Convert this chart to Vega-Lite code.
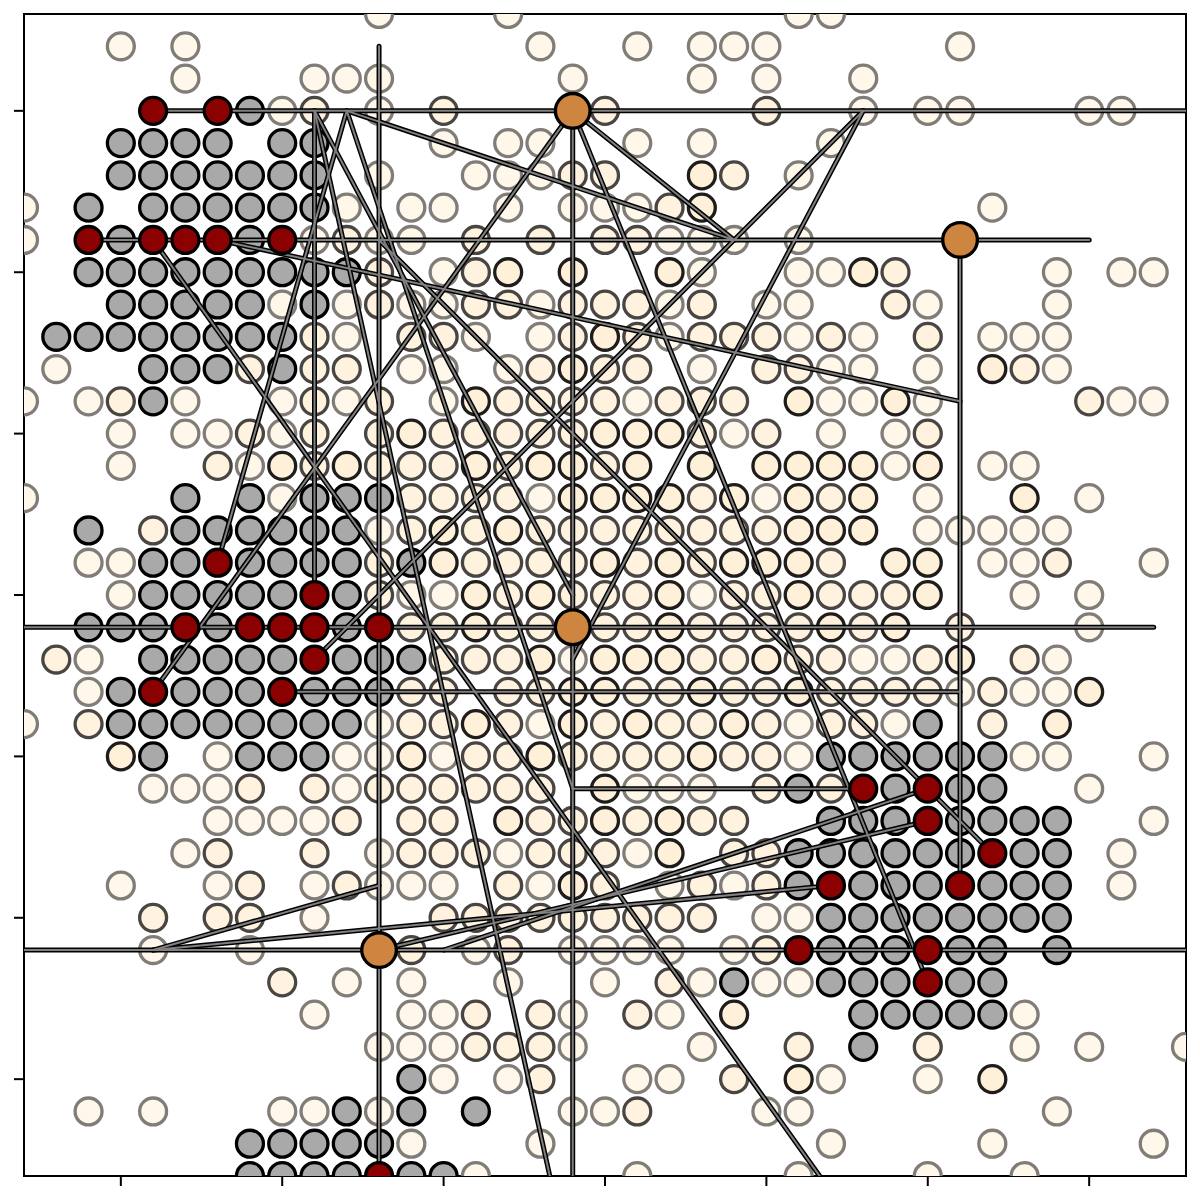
{"$schema":"https://vega.github.io/schema/vega-lite/v6.json","width":1162,"height":1162,"autosize":{"type":"none"},"padding":{"left":24,"top":14,"right":14,"bottom":24},"background":"white","config":{"view":{"stroke":"black","strokeWidth":2}},
"datasets":{"lines":[
{"x":4,"y":3,"x2":36,"y2":3},{"x":2,"y":7,"x2":33,"y2":7},{"x":0,"y":19,"x2":35,"y2":19},{"x":8,"y":21,"x2":29,"y2":21},{"x":17,"y":24,"x2":26,"y2":24},{"x":0,"y":29,"x2":36,"y2":29},
{"x":11,"y":1,"x2":11,"y2":36},{"x":9,"y":3,"x2":9,"y2":18},{"x":17,"y":3,"x2":17,"y2":36},{"x":29,"y":7,"x2":29,"y2":27},
{"x":10,"y":3,"x2":22,"y2":7},{"x":17,"y":3,"x2":22,"y2":7},{"x":17,"y":3,"x2":4,"y2":21},{"x":17,"y":3,"x2":28,"y2":30},
{"x":11,"y":7,"x2":30,"y2":26},{"x":4,"y":7,"x2":24.65,"y2":36},{"x":6,"y":7,"x2":29,"y2":12},
{"x":10,"y":3,"x2":17,"y2":24},{"x":9,"y":3,"x2":17,"y2":18},{"x":9,"y":3,"x2":16.29,"y2":36},
{"x":26,"y":3,"x2":17,"y2":20},{"x":26,"y":3,"x2":9,"y2":20},{"x":10,"y":3,"x2":6,"y2":17},
{"x":4,"y":29,"x2":11,"y2":27},{"x":4,"y":29,"x2":25,"y2":27},{"x":13,"y":29,"x2":28,"y2":24},{"x":11,"y":29,"x2":28,"y2":25}
],
"special":[
{"x":4,"y":3,"k":"r"},{"x":6,"y":3,"k":"r"},{"x":2,"y":7,"k":"r"},{"x":4,"y":7,"k":"r"},{"x":5,"y":7,"k":"r"},{"x":6,"y":7,"k":"r"},{"x":8,"y":7,"k":"r"},{"x":6,"y":17,"k":"r"},{"x":9,"y":18,"k":"r"},{"x":5,"y":19,"k":"r"},{"x":7,"y":19,"k":"r"},{"x":8,"y":19,"k":"r"},{"x":9,"y":19,"k":"r"},{"x":11,"y":19,"k":"r"},{"x":9,"y":20,"k":"r"},{"x":4,"y":21,"k":"r"},{"x":8,"y":21,"k":"r"},{"x":26,"y":24,"k":"r"},{"x":28,"y":24,"k":"r"},{"x":28,"y":25,"k":"r"},{"x":30,"y":26,"k":"r"},{"x":25,"y":27,"k":"r"},{"x":29,"y":27,"k":"r"},{"x":24,"y":29,"k":"r"},{"x":28,"y":29,"k":"r"},{"x":28,"y":30,"k":"r"},{"x":11,"y":36,"k":"r"},
{"x":17,"y":3,"k":"b"},{"x":29,"y":7,"k":"b"},{"x":17,"y":19,"k":"b"},{"x":11,"y":29,"k":"b"}
],
"base":[
{"x":11,"y":0,"k":"f"},{"x":15,"y":0,"k":"f"},{"x":24,"y":0,"k":"f"},{"x":25,"y":0,"k":"f"},
{"x":3,"y":1,"k":"f"},{"x":5,"y":1,"k":"f"},{"x":16,"y":1,"k":"f"},{"x":19,"y":1,"k":"f"},{"x":21,"y":1,"k":"f"},{"x":22,"y":1,"k":"f"},{"x":23,"y":1,"k":"f"},{"x":29,"y":1,"k":"f"},
{"x":5,"y":2,"k":"f"},{"x":9,"y":2,"k":"f"},{"x":10,"y":2,"k":"f"},{"x":11,"y":2,"k":"f"},{"x":17,"y":2,"k":"f"},{"x":21,"y":2,"k":"f"},{"x":23,"y":2,"k":"f"},{"x":26,"y":2,"k":"f"},
{"x":7,"y":3,"k":"g"},{"x":8,"y":3,"k":"f"},{"x":9,"y":3,"k":"m"},{"x":11,"y":3,"k":"f"},{"x":13,"y":3,"k":"m"},{"x":18,"y":3,"k":"m"},{"x":23,"y":3,"k":"m"},{"x":26,"y":3,"k":"f"},{"x":28,"y":3,"k":"f"},{"x":29,"y":3,"k":"f"},{"x":33,"y":3,"k":"f"},{"x":34,"y":3,"k":"f"},
{"x":3,"y":4,"k":"g"},{"x":4,"y":4,"k":"g"},{"x":5,"y":4,"k":"g"},{"x":6,"y":4,"k":"g"},{"x":8,"y":4,"k":"g"},{"x":9,"y":4,"k":"g"},{"x":13,"y":4,"k":"f"},{"x":15,"y":4,"k":"f"},{"x":16,"y":4,"k":"f"},{"x":19,"y":4,"k":"f"},{"x":21,"y":4,"k":"f"},{"x":25,"y":4,"k":"f"},
{"x":3,"y":5,"k":"g"},{"x":4,"y":5,"k":"g"},{"x":5,"y":5,"k":"g"},{"x":6,"y":5,"k":"g"},{"x":7,"y":5,"k":"g"},{"x":8,"y":5,"k":"g"},{"x":9,"y":5,"k":"g"},{"x":11,"y":5,"k":"f"},{"x":14,"y":5,"k":"f"},{"x":15,"y":5,"k":"f"},{"x":16,"y":5,"k":"f"},{"x":17,"y":5,"k":"m"},{"x":18,"y":5,"k":"m"},{"x":21,"y":5,"k":"s"},{"x":22,"y":5,"k":"m"},{"x":24,"y":5,"k":"f"},
{"x":0,"y":6,"k":"f"},{"x":2,"y":6,"k":"g"},{"x":4,"y":6,"k":"g"},{"x":5,"y":6,"k":"g"},{"x":6,"y":6,"k":"g"},{"x":7,"y":6,"k":"g"},{"x":8,"y":6,"k":"g"},{"x":9,"y":6,"k":"g"},{"x":10,"y":6,"k":"f"},{"x":12,"y":6,"k":"f"},{"x":13,"y":6,"k":"f"},{"x":15,"y":6,"k":"f"},{"x":17,"y":6,"k":"f"},{"x":18,"y":6,"k":"f"},{"x":19,"y":6,"k":"f"},{"x":20,"y":6,"k":"m"},{"x":21,"y":6,"k":"s"},{"x":30,"y":6,"k":"f"},
{"x":0,"y":7,"k":"f"},{"x":3,"y":7,"k":"g"},{"x":7,"y":7,"k":"g"},{"x":9,"y":7,"k":"f"},{"x":10,"y":7,"k":"m"},{"x":11,"y":7,"k":"f"},{"x":12,"y":7,"k":"f"},{"x":14,"y":7,"k":"m"},{"x":16,"y":7,"k":"m"},{"x":18,"y":7,"k":"m"},{"x":19,"y":7,"k":"m"},{"x":20,"y":7,"k":"f"},{"x":21,"y":7,"k":"f"},{"x":22,"y":7,"k":"f"},{"x":24,"y":7,"k":"f"},
{"x":2,"y":8,"k":"g"},{"x":3,"y":8,"k":"g"},{"x":4,"y":8,"k":"g"},{"x":5,"y":8,"k":"g"},{"x":6,"y":8,"k":"g"},{"x":7,"y":8,"k":"g"},{"x":8,"y":8,"k":"g"},{"x":9,"y":8,"k":"g"},{"x":10,"y":8,"k":"g"},{"x":11,"y":8,"k":"m"},{"x":13,"y":8,"k":"f"},{"x":14,"y":8,"k":"m"},{"x":15,"y":8,"k":"s"},{"x":17,"y":8,"k":"s"},{"x":20,"y":8,"k":"s"},{"x":21,"y":8,"k":"f"},{"x":24,"y":8,"k":"f"},{"x":25,"y":8,"k":"f"},{"x":26,"y":8,"k":"s"},{"x":27,"y":8,"k":"m"},{"x":32,"y":8,"k":"f"},{"x":34,"y":8,"k":"f"},{"x":35,"y":8,"k":"f"},
{"x":3,"y":9,"k":"g"},{"x":4,"y":9,"k":"g"},{"x":5,"y":9,"k":"g"},{"x":6,"y":9,"k":"g"},{"x":7,"y":9,"k":"g"},{"x":8,"y":9,"k":"f"},{"x":9,"y":9,"k":"g"},{"x":10,"y":9,"k":"f"},{"x":11,"y":9,"k":"m"},{"x":12,"y":9,"k":"f"},{"x":13,"y":9,"k":"f"},{"x":14,"y":9,"k":"m"},{"x":15,"y":9,"k":"m"},{"x":16,"y":9,"k":"f"},{"x":17,"y":9,"k":"m"},{"x":18,"y":9,"k":"m"},{"x":19,"y":9,"k":"m"},{"x":20,"y":9,"k":"f"},{"x":21,"y":9,"k":"m"},{"x":23,"y":9,"k":"f"},{"x":24,"y":9,"k":"f"},{"x":27,"y":9,"k":"m"},{"x":28,"y":9,"k":"f"},{"x":32,"y":9,"k":"f"},
{"x":1,"y":10,"k":"g"},{"x":2,"y":10,"k":"g"},{"x":3,"y":10,"k":"g"},{"x":4,"y":10,"k":"g"},{"x":5,"y":10,"k":"g"},{"x":6,"y":10,"k":"g"},{"x":7,"y":10,"k":"g"},{"x":8,"y":10,"k":"g"},{"x":9,"y":10,"k":"m"},{"x":10,"y":10,"k":"f"},{"x":12,"y":10,"k":"m"},{"x":13,"y":10,"k":"m"},{"x":14,"y":10,"k":"f"},{"x":16,"y":10,"k":"f"},{"x":17,"y":10,"k":"m"},{"x":18,"y":10,"k":"s"},{"x":19,"y":10,"k":"m"},{"x":20,"y":10,"k":"f"},{"x":21,"y":10,"k":"m"},{"x":22,"y":10,"k":"m"},{"x":23,"y":10,"k":"m"},{"x":24,"y":10,"k":"f"},{"x":25,"y":10,"k":"m"},{"x":26,"y":10,"k":"f"},{"x":28,"y":10,"k":"m"},{"x":30,"y":10,"k":"f"},{"x":31,"y":10,"k":"f"},{"x":32,"y":10,"k":"f"},
{"x":1,"y":11,"k":"f"},{"x":4,"y":11,"k":"g"},{"x":5,"y":11,"k":"g"},{"x":6,"y":11,"k":"g"},{"x":7,"y":11,"k":"m"},{"x":8,"y":11,"k":"g"},{"x":9,"y":11,"k":"m"},{"x":10,"y":11,"k":"m"},{"x":12,"y":11,"k":"f"},{"x":13,"y":11,"k":"f"},{"x":15,"y":11,"k":"f"},{"x":16,"y":11,"k":"m"},{"x":17,"y":11,"k":"s"},{"x":18,"y":11,"k":"m"},{"x":19,"y":11,"k":"m"},{"x":21,"y":11,"k":"f"},{"x":23,"y":11,"k":"m"},{"x":24,"y":11,"k":"m"},{"x":25,"y":11,"k":"f"},{"x":26,"y":11,"k":"f"},{"x":28,"y":11,"k":"f"},{"x":30,"y":11,"k":"s"},{"x":31,"y":11,"k":"m"},{"x":32,"y":11,"k":"f"},
{"x":0,"y":12,"k":"f"},{"x":2,"y":12,"k":"f"},{"x":3,"y":12,"k":"m"},{"x":4,"y":12,"k":"g"},{"x":5,"y":12,"k":"f"},{"x":8,"y":12,"k":"f"},{"x":9,"y":12,"k":"m"},{"x":10,"y":12,"k":"f"},{"x":11,"y":12,"k":"m"},{"x":13,"y":12,"k":"f"},{"x":14,"y":12,"k":"s"},{"x":15,"y":12,"k":"m"},{"x":16,"y":12,"k":"m"},{"x":17,"y":12,"k":"m"},{"x":18,"y":12,"k":"m"},{"x":19,"y":12,"k":"f"},{"x":20,"y":12,"k":"m"},{"x":21,"y":12,"k":"m"},{"x":22,"y":12,"k":"m"},{"x":24,"y":12,"k":"s"},{"x":25,"y":12,"k":"f"},{"x":26,"y":12,"k":"f"},{"x":27,"y":12,"k":"s"},{"x":28,"y":12,"k":"f"},{"x":33,"y":12,"k":"m"},{"x":34,"y":12,"k":"f"},{"x":35,"y":12,"k":"f"},
{"x":3,"y":13,"k":"f"},{"x":5,"y":13,"k":"f"},{"x":6,"y":13,"k":"f"},{"x":7,"y":13,"k":"m"},{"x":8,"y":13,"k":"f"},{"x":9,"y":13,"k":"m"},{"x":11,"y":13,"k":"m"},{"x":12,"y":13,"k":"s"},{"x":13,"y":13,"k":"m"},{"x":14,"y":13,"k":"m"},{"x":15,"y":13,"k":"m"},{"x":16,"y":13,"k":"m"},{"x":17,"y":13,"k":"m"},{"x":18,"y":13,"k":"s"},{"x":19,"y":13,"k":"s"},{"x":20,"y":13,"k":"s"},{"x":21,"y":13,"k":"m"},{"x":22,"y":13,"k":"f"},{"x":23,"y":13,"k":"m"},{"x":25,"y":13,"k":"f"},{"x":27,"y":13,"k":"f"},{"x":28,"y":13,"k":"m"},
{"x":3,"y":14,"k":"f"},{"x":6,"y":14,"k":"m"},{"x":7,"y":14,"k":"f"},{"x":8,"y":14,"k":"s"},{"x":9,"y":14,"k":"m"},{"x":10,"y":14,"k":"s"},{"x":11,"y":14,"k":"m"},{"x":12,"y":14,"k":"m"},{"x":13,"y":14,"k":"m"},{"x":14,"y":14,"k":"s"},{"x":15,"y":14,"k":"m"},{"x":16,"y":14,"k":"s"},{"x":17,"y":14,"k":"s"},{"x":18,"y":14,"k":"m"},{"x":19,"y":14,"k":"s"},{"x":21,"y":14,"k":"s"},{"x":23,"y":14,"k":"s"},{"x":24,"y":14,"k":"s"},{"x":25,"y":14,"k":"s"},{"x":26,"y":14,"k":"s"},{"x":27,"y":14,"k":"f"},{"x":28,"y":14,"k":"s"},{"x":30,"y":14,"k":"f"},{"x":31,"y":14,"k":"f"},
{"x":0,"y":15,"k":"f"},{"x":5,"y":15,"k":"g"},{"x":7,"y":15,"k":"g"},{"x":8,"y":15,"k":"f"},{"x":9,"y":15,"k":"g"},{"x":10,"y":15,"k":"g"},{"x":11,"y":15,"k":"g"},{"x":12,"y":15,"k":"m"},{"x":13,"y":15,"k":"m"},{"x":14,"y":15,"k":"m"},{"x":15,"y":15,"k":"m"},{"x":16,"y":15,"k":"f"},{"x":17,"y":15,"k":"s"},{"x":18,"y":15,"k":"s"},{"x":19,"y":15,"k":"s"},{"x":20,"y":15,"k":"s"},{"x":21,"y":15,"k":"m"},{"x":22,"y":15,"k":"s"},{"x":23,"y":15,"k":"f"},{"x":24,"y":15,"k":"s"},{"x":25,"y":15,"k":"m"},{"x":26,"y":15,"k":"s"},{"x":28,"y":15,"k":"f"},{"x":31,"y":15,"k":"s"},{"x":33,"y":15,"k":"f"},
{"x":2,"y":16,"k":"g"},{"x":4,"y":16,"k":"m"},{"x":5,"y":16,"k":"g"},{"x":6,"y":16,"k":"g"},{"x":7,"y":16,"k":"g"},{"x":8,"y":16,"k":"g"},{"x":9,"y":16,"k":"g"},{"x":10,"y":16,"k":"g"},{"x":11,"y":16,"k":"f"},{"x":12,"y":16,"k":"m"},{"x":13,"y":16,"k":"s"},{"x":14,"y":16,"k":"m"},{"x":15,"y":16,"k":"s"},{"x":16,"y":16,"k":"m"},{"x":17,"y":16,"k":"m"},{"x":18,"y":16,"k":"m"},{"x":19,"y":16,"k":"m"},{"x":20,"y":16,"k":"m"},{"x":21,"y":16,"k":"m"},{"x":22,"y":16,"k":"m"},{"x":23,"y":16,"k":"m"},{"x":24,"y":16,"k":"s"},{"x":25,"y":16,"k":"s"},{"x":26,"y":16,"k":"s"},{"x":28,"y":16,"k":"f"},{"x":29,"y":16,"k":"f"},{"x":30,"y":16,"k":"f"},{"x":31,"y":16,"k":"f"},{"x":32,"y":16,"k":"f"},
{"x":2,"y":17,"k":"f"},{"x":3,"y":17,"k":"f"},{"x":4,"y":17,"k":"g"},{"x":5,"y":17,"k":"g"},{"x":7,"y":17,"k":"g"},{"x":8,"y":17,"k":"g"},{"x":9,"y":17,"k":"g"},{"x":10,"y":17,"k":"g"},{"x":11,"y":17,"k":"m"},{"x":12,"y":17,"k":"g"},{"x":13,"y":17,"k":"s"},{"x":14,"y":17,"k":"m"},{"x":15,"y":17,"k":"m"},{"x":16,"y":17,"k":"m"},{"x":17,"y":17,"k":"m"},{"x":18,"y":17,"k":"s"},{"x":19,"y":17,"k":"m"},{"x":20,"y":17,"k":"s"},{"x":21,"y":17,"k":"m"},{"x":22,"y":17,"k":"s"},{"x":23,"y":17,"k":"s"},{"x":24,"y":17,"k":"s"},{"x":25,"y":17,"k":"m"},{"x":27,"y":17,"k":"s"},{"x":28,"y":17,"k":"s"},{"x":30,"y":17,"k":"f"},{"x":31,"y":17,"k":"f"},{"x":32,"y":17,"k":"m"},{"x":35,"y":17,"k":"f"},
{"x":3,"y":18,"k":"f"},{"x":4,"y":18,"k":"g"},{"x":5,"y":18,"k":"g"},{"x":6,"y":18,"k":"g"},{"x":7,"y":18,"k":"g"},{"x":8,"y":18,"k":"g"},{"x":10,"y":18,"k":"g"},{"x":11,"y":18,"k":"m"},{"x":12,"y":18,"k":"f"},{"x":13,"y":18,"k":"f"},{"x":14,"y":18,"k":"s"},{"x":15,"y":18,"k":"m"},{"x":16,"y":18,"k":"s"},{"x":17,"y":18,"k":"m"},{"x":18,"y":18,"k":"m"},{"x":19,"y":18,"k":"m"},{"x":20,"y":18,"k":"s"},{"x":21,"y":18,"k":"f"},{"x":22,"y":18,"k":"m"},{"x":23,"y":18,"k":"m"},{"x":24,"y":18,"k":"s"},{"x":25,"y":18,"k":"m"},{"x":26,"y":18,"k":"m"},{"x":27,"y":18,"k":"m"},{"x":28,"y":18,"k":"s"},{"x":31,"y":18,"k":"f"},{"x":33,"y":18,"k":"f"},
{"x":2,"y":19,"k":"g"},{"x":3,"y":19,"k":"g"},{"x":4,"y":19,"k":"g"},{"x":6,"y":19,"k":"g"},{"x":10,"y":19,"k":"g"},{"x":12,"y":19,"k":"m"},{"x":13,"y":19,"k":"m"},{"x":14,"y":19,"k":"s"},{"x":15,"y":19,"k":"m"},{"x":16,"y":19,"k":"m"},{"x":18,"y":19,"k":"m"},{"x":19,"y":19,"k":"m"},{"x":20,"y":19,"k":"s"},{"x":21,"y":19,"k":"m"},{"x":22,"y":19,"k":"m"},{"x":23,"y":19,"k":"m"},{"x":24,"y":19,"k":"m"},{"x":25,"y":19,"k":"s"},{"x":26,"y":19,"k":"m"},{"x":27,"y":19,"k":"s"},{"x":29,"y":19,"k":"m"},{"x":33,"y":19,"k":"f"},
{"x":1,"y":20,"k":"m"},{"x":2,"y":20,"k":"f"},{"x":4,"y":20,"k":"g"},{"x":5,"y":20,"k":"g"},{"x":6,"y":20,"k":"g"},{"x":7,"y":20,"k":"g"},{"x":8,"y":20,"k":"g"},{"x":10,"y":20,"k":"g"},{"x":11,"y":20,"k":"g"},{"x":12,"y":20,"k":"g"},{"x":13,"y":20,"k":"m"},{"x":14,"y":20,"k":"m"},{"x":15,"y":20,"k":"m"},{"x":16,"y":20,"k":"s"},{"x":17,"y":20,"k":"f"},{"x":18,"y":20,"k":"s"},{"x":19,"y":20,"k":"s"},{"x":20,"y":20,"k":"s"},{"x":21,"y":20,"k":"m"},{"x":22,"y":20,"k":"m"},{"x":23,"y":20,"k":"s"},{"x":24,"y":20,"k":"m"},{"x":25,"y":20,"k":"m"},{"x":26,"y":20,"k":"f"},{"x":27,"y":20,"k":"f"},{"x":28,"y":20,"k":"m"},{"x":29,"y":20,"k":"s"},{"x":31,"y":20,"k":"m"},{"x":32,"y":20,"k":"f"},
{"x":2,"y":21,"k":"f"},{"x":3,"y":21,"k":"g"},{"x":5,"y":21,"k":"g"},{"x":6,"y":21,"k":"g"},{"x":7,"y":21,"k":"g"},{"x":9,"y":21,"k":"g"},{"x":10,"y":21,"k":"g"},{"x":11,"y":21,"k":"g"},{"x":12,"y":21,"k":"m"},{"x":13,"y":21,"k":"m"},{"x":15,"y":21,"k":"m"},{"x":16,"y":21,"k":"m"},{"x":17,"y":21,"k":"s"},{"x":18,"y":21,"k":"s"},{"x":19,"y":21,"k":"m"},{"x":20,"y":21,"k":"m"},{"x":21,"y":21,"k":"s"},{"x":22,"y":21,"k":"m"},{"x":23,"y":21,"k":"m"},{"x":24,"y":21,"k":"s"},{"x":25,"y":21,"k":"m"},{"x":26,"y":21,"k":"m"},{"x":27,"y":21,"k":"m"},{"x":28,"y":21,"k":"m"},{"x":29,"y":21,"k":"f"},{"x":30,"y":21,"k":"m"},{"x":31,"y":21,"k":"f"},{"x":32,"y":21,"k":"f"},{"x":33,"y":21,"k":"s"},
{"x":0,"y":22,"k":"f"},{"x":2,"y":22,"k":"m"},{"x":3,"y":22,"k":"g"},{"x":4,"y":22,"k":"g"},{"x":5,"y":22,"k":"g"},{"x":6,"y":22,"k":"g"},{"x":7,"y":22,"k":"g"},{"x":8,"y":22,"k":"g"},{"x":9,"y":22,"k":"g"},{"x":10,"y":22,"k":"g"},{"x":11,"y":22,"k":"f"},{"x":12,"y":22,"k":"m"},{"x":13,"y":22,"k":"m"},{"x":14,"y":22,"k":"s"},{"x":15,"y":22,"k":"m"},{"x":16,"y":22,"k":"f"},{"x":17,"y":22,"k":"s"},{"x":18,"y":22,"k":"m"},{"x":19,"y":22,"k":"s"},{"x":20,"y":22,"k":"m"},{"x":21,"y":22,"k":"m"},{"x":22,"y":22,"k":"s"},{"x":23,"y":22,"k":"m"},{"x":24,"y":22,"k":"f"},{"x":25,"y":22,"k":"m"},{"x":26,"y":22,"k":"m"},{"x":27,"y":22,"k":"f"},{"x":28,"y":22,"k":"g"},{"x":30,"y":22,"k":"m"},{"x":32,"y":22,"k":"s"},
{"x":3,"y":23,"k":"s"},{"x":4,"y":23,"k":"g"},{"x":6,"y":23,"k":"f"},{"x":7,"y":23,"k":"g"},{"x":8,"y":23,"k":"g"},{"x":9,"y":23,"k":"g"},{"x":10,"y":23,"k":"f"},{"x":11,"y":23,"k":"f"},{"x":12,"y":23,"k":"s"},{"x":13,"y":23,"k":"f"},{"x":14,"y":23,"k":"m"},{"x":15,"y":23,"k":"m"},{"x":16,"y":23,"k":"s"},{"x":17,"y":23,"k":"m"},{"x":18,"y":23,"k":"m"},{"x":19,"y":23,"k":"m"},{"x":20,"y":23,"k":"m"},{"x":21,"y":23,"k":"s"},{"x":22,"y":23,"k":"m"},{"x":23,"y":23,"k":"m"},{"x":24,"y":23,"k":"f"},{"x":25,"y":23,"k":"g"},{"x":26,"y":23,"k":"g"},{"x":27,"y":23,"k":"g"},{"x":28,"y":23,"k":"g"},{"x":29,"y":23,"k":"g"},{"x":30,"y":23,"k":"g"},{"x":31,"y":23,"k":"f"},{"x":32,"y":23,"k":"f"},{"x":35,"y":23,"k":"f"},
{"x":4,"y":24,"k":"f"},{"x":5,"y":24,"k":"f"},{"x":6,"y":24,"k":"f"},{"x":7,"y":24,"k":"m"},{"x":9,"y":24,"k":"m"},{"x":10,"y":24,"k":"f"},{"x":11,"y":24,"k":"m"},{"x":12,"y":24,"k":"m"},{"x":13,"y":24,"k":"m"},{"x":14,"y":24,"k":"m"},{"x":15,"y":24,"k":"m"},{"x":16,"y":24,"k":"m"},{"x":18,"y":24,"k":"s"},{"x":19,"y":24,"k":"f"},{"x":20,"y":24,"k":"f"},{"x":21,"y":24,"k":"f"},{"x":23,"y":24,"k":"m"},{"x":24,"y":24,"k":"g"},{"x":25,"y":24,"k":"m"},{"x":27,"y":24,"k":"g"},{"x":29,"y":24,"k":"g"},{"x":30,"y":24,"k":"g"},{"x":33,"y":24,"k":"f"},
{"x":6,"y":25,"k":"f"},{"x":7,"y":25,"k":"f"},{"x":8,"y":25,"k":"f"},{"x":9,"y":25,"k":"f"},{"x":10,"y":25,"k":"m"},{"x":12,"y":25,"k":"m"},{"x":13,"y":25,"k":"m"},{"x":15,"y":25,"k":"s"},{"x":16,"y":25,"k":"m"},{"x":17,"y":25,"k":"m"},{"x":18,"y":25,"k":"s"},{"x":19,"y":25,"k":"m"},{"x":20,"y":25,"k":"s"},{"x":21,"y":25,"k":"m"},{"x":22,"y":25,"k":"m"},{"x":25,"y":25,"k":"g"},{"x":26,"y":25,"k":"g"},{"x":27,"y":25,"k":"g"},{"x":29,"y":25,"k":"g"},{"x":30,"y":25,"k":"g"},{"x":31,"y":25,"k":"g"},{"x":32,"y":25,"k":"g"},{"x":35,"y":25,"k":"f"},
{"x":5,"y":26,"k":"f"},{"x":6,"y":26,"k":"m"},{"x":9,"y":26,"k":"m"},{"x":11,"y":26,"k":"f"},{"x":12,"y":26,"k":"m"},{"x":13,"y":26,"k":"m"},{"x":14,"y":26,"k":"m"},{"x":15,"y":26,"k":"f"},{"x":16,"y":26,"k":"m"},{"x":17,"y":26,"k":"m"},{"x":18,"y":26,"k":"m"},{"x":19,"y":26,"k":"f"},{"x":20,"y":26,"k":"s"},{"x":22,"y":26,"k":"m"},{"x":23,"y":26,"k":"m"},{"x":24,"y":26,"k":"g"},{"x":25,"y":26,"k":"g"},{"x":26,"y":26,"k":"g"},{"x":27,"y":26,"k":"g"},{"x":28,"y":26,"k":"g"},{"x":29,"y":26,"k":"g"},{"x":31,"y":26,"k":"g"},{"x":32,"y":26,"k":"g"},{"x":34,"y":26,"k":"f"},
{"x":3,"y":27,"k":"f"},{"x":6,"y":27,"k":"f"},{"x":7,"y":27,"k":"m"},{"x":9,"y":27,"k":"f"},{"x":10,"y":27,"k":"m"},{"x":11,"y":27,"k":"f"},{"x":12,"y":27,"k":"f"},{"x":13,"y":27,"k":"f"},{"x":15,"y":27,"k":"m"},{"x":16,"y":27,"k":"f"},{"x":17,"y":27,"k":"s"},{"x":18,"y":27,"k":"m"},{"x":20,"y":27,"k":"f"},{"x":21,"y":27,"k":"m"},{"x":22,"y":27,"k":"f"},{"x":23,"y":27,"k":"m"},{"x":24,"y":27,"k":"g"},{"x":26,"y":27,"k":"g"},{"x":27,"y":27,"k":"g"},{"x":28,"y":27,"k":"g"},{"x":30,"y":27,"k":"g"},{"x":31,"y":27,"k":"g"},{"x":32,"y":27,"k":"g"},{"x":34,"y":27,"k":"f"},
{"x":4,"y":28,"k":"m"},{"x":6,"y":28,"k":"m"},{"x":7,"y":28,"k":"m"},{"x":9,"y":28,"k":"f"},{"x":13,"y":28,"k":"m"},{"x":14,"y":28,"k":"m"},{"x":15,"y":28,"k":"m"},{"x":16,"y":28,"k":"m"},{"x":17,"y":28,"k":"m"},{"x":18,"y":28,"k":"m"},{"x":19,"y":28,"k":"m"},{"x":20,"y":28,"k":"m"},{"x":21,"y":28,"k":"m"},{"x":23,"y":28,"k":"f"},{"x":24,"y":28,"k":"f"},{"x":25,"y":28,"k":"g"},{"x":26,"y":28,"k":"g"},{"x":27,"y":28,"k":"g"},{"x":28,"y":28,"k":"g"},{"x":29,"y":28,"k":"g"},{"x":30,"y":28,"k":"g"},{"x":31,"y":28,"k":"g"},{"x":32,"y":28,"k":"g"},
{"x":4,"y":29,"k":"f"},{"x":7,"y":29,"k":"f"},{"x":12,"y":29,"k":"m"},{"x":14,"y":29,"k":"f"},{"x":15,"y":29,"k":"m"},{"x":17,"y":29,"k":"f"},{"x":18,"y":29,"k":"f"},{"x":19,"y":29,"k":"f"},{"x":20,"y":29,"k":"f"},{"x":22,"y":29,"k":"f"},{"x":23,"y":29,"k":"m"},{"x":25,"y":29,"k":"g"},{"x":26,"y":29,"k":"g"},{"x":27,"y":29,"k":"g"},{"x":29,"y":29,"k":"g"},{"x":30,"y":29,"k":"g"},{"x":32,"y":29,"k":"g"},
{"x":8,"y":30,"k":"m"},{"x":10,"y":30,"k":"f"},{"x":12,"y":30,"k":"f"},{"x":15,"y":30,"k":"f"},{"x":18,"y":30,"k":"f"},{"x":20,"y":30,"k":"m"},{"x":21,"y":30,"k":"f"},{"x":22,"y":30,"k":"g"},{"x":23,"y":30,"k":"f"},{"x":24,"y":30,"k":"f"},{"x":25,"y":30,"k":"g"},{"x":26,"y":30,"k":"g"},{"x":27,"y":30,"k":"g"},{"x":29,"y":30,"k":"g"},{"x":30,"y":30,"k":"g"},
{"x":9,"y":31,"k":"f"},{"x":12,"y":31,"k":"f"},{"x":13,"y":31,"k":"f"},{"x":14,"y":31,"k":"m"},{"x":16,"y":31,"k":"m"},{"x":17,"y":31,"k":"f"},{"x":19,"y":31,"k":"m"},{"x":20,"y":31,"k":"f"},{"x":22,"y":31,"k":"s"},{"x":26,"y":31,"k":"g"},{"x":27,"y":31,"k":"g"},{"x":28,"y":31,"k":"g"},{"x":29,"y":31,"k":"g"},{"x":30,"y":31,"k":"g"},{"x":31,"y":31,"k":"f"},
{"x":11,"y":32,"k":"f"},{"x":12,"y":32,"k":"f"},{"x":13,"y":32,"k":"f"},{"x":14,"y":32,"k":"m"},{"x":15,"y":32,"k":"m"},{"x":16,"y":32,"k":"m"},{"x":17,"y":32,"k":"f"},{"x":21,"y":32,"k":"f"},{"x":24,"y":32,"k":"m"},{"x":26,"y":32,"k":"g"},{"x":28,"y":32,"k":"m"},{"x":31,"y":32,"k":"f"},{"x":33,"y":32,"k":"f"},{"x":36,"y":32,"k":"f"},
{"x":12,"y":33,"k":"g"},{"x":13,"y":33,"k":"f"},{"x":15,"y":33,"k":"f"},{"x":16,"y":33,"k":"m"},{"x":19,"y":33,"k":"f"},{"x":20,"y":33,"k":"f"},{"x":22,"y":33,"k":"m"},{"x":24,"y":33,"k":"s"},{"x":25,"y":33,"k":"f"},{"x":28,"y":33,"k":"f"},{"x":30,"y":33,"k":"s"},
{"x":2,"y":34,"k":"f"},{"x":4,"y":34,"k":"f"},{"x":8,"y":34,"k":"f"},{"x":9,"y":34,"k":"f"},{"x":10,"y":34,"k":"g"},{"x":11,"y":34,"k":"f"},{"x":12,"y":34,"k":"g"},{"x":14,"y":34,"k":"g"},{"x":17,"y":34,"k":"f"},{"x":18,"y":34,"k":"f"},{"x":19,"y":34,"k":"m"},{"x":23,"y":34,"k":"f"},{"x":24,"y":34,"k":"f"},{"x":32,"y":34,"k":"f"},
{"x":7,"y":35,"k":"g"},{"x":8,"y":35,"k":"g"},{"x":9,"y":35,"k":"g"},{"x":10,"y":35,"k":"g"},{"x":11,"y":35,"k":"g"},{"x":12,"y":35,"k":"f"},{"x":16,"y":35,"k":"f"},{"x":25,"y":35,"k":"f"},{"x":30,"y":35,"k":"f"},{"x":35,"y":35,"k":"f"},
{"x":7,"y":36,"k":"g"},{"x":8,"y":36,"k":"g"},{"x":9,"y":36,"k":"g"},{"x":10,"y":36,"k":"g"},{"x":12,"y":36,"k":"g"},{"x":13,"y":36,"k":"g"},{"x":14,"y":36,"k":"f"},{"x":19,"y":36,"k":"f"},{"x":24,"y":36,"k":"f"},{"x":28,"y":36,"k":"f"},{"x":31,"y":36,"k":"f"}
]},
"layer":[
{"data":{"name":"base"},"mark":{"type":"point","filled":true,"shape":"circle","size":725,"strokeWidth":3.3,"opacity":1,"clip":true},
"encoding":{
"x":{"field":"x","type":"quantitative","scale":{"domain":[0,36],"nice":false,"zero":false},"axis":{"title":null,"values":[3,8,13,18,23,28,33],"labels":false,"grid":false,"domain":false,"ticks":true,"tickSize":10,"tickWidth":2,"tickColor":"black","tickRound":false,"translate":0}},
"y":{"field":"y","type":"quantitative","scale":{"domain":[36,0],"nice":false,"zero":false},"axis":{"title":null,"values":[3,8,13,18,23,28,33],"labels":false,"grid":false,"domain":false,"ticks":true,"tickSize":10,"tickWidth":2,"tickColor":"black","tickRound":false,"translate":0}},
"fill":{"field":"k","type":"nominal","legend":null,"scale":{"domain":["f","m","s","g","r","b"],"range":["#FFF7EA","#FFF3E0","#FFF0D9","#A9A9A9","#8B0000","#CD853F"]}},
"stroke":{"field":"k","type":"nominal","legend":null,"scale":{"domain":["f","m","s","g","r","b"],"range":["#807C77","#484542","#1E1D1B","#000000","#000000","#000000"]}}}},
{"data":{"name":"lines"},"mark":{"type":"rule","color":"black","strokeWidth":5,"strokeCap":"round","clip":true},
"encoding":{"x":{"field":"x","type":"quantitative"},"y":{"field":"y","type":"quantitative"},"x2":{"field":"x2"},"y2":{"field":"y2"}}},
{"data":{"name":"lines"},"mark":{"type":"rule","color":"#808080","strokeWidth":2,"strokeCap":"round","clip":true},
"encoding":{"x":{"field":"x","type":"quantitative"},"y":{"field":"y","type":"quantitative"},"x2":{"field":"x2"},"y2":{"field":"y2"}}},
{"data":{"name":"special"},"transform":[{"filter":"datum.k=='r'"}],"mark":{"type":"point","filled":true,"shape":"circle","size":725,"strokeWidth":3.3,"opacity":1,"clip":true},
"encoding":{"x":{"field":"x","type":"quantitative"},"y":{"field":"y","type":"quantitative"},"fill":{"field":"k","type":"nominal","legend":null},"stroke":{"field":"k","type":"nominal","legend":null}}},
{"data":{"name":"special"},"transform":[{"filter":"datum.k=='b'"}],"mark":{"type":"point","filled":true,"shape":"circle","size":1200,"strokeWidth":3.3,"opacity":1,"clip":true},
"encoding":{"x":{"field":"x","type":"quantitative"},"y":{"field":"y","type":"quantitative"},"fill":{"field":"k","type":"nominal","legend":null},"stroke":{"field":"k","type":"nominal","legend":null}}}
]}
